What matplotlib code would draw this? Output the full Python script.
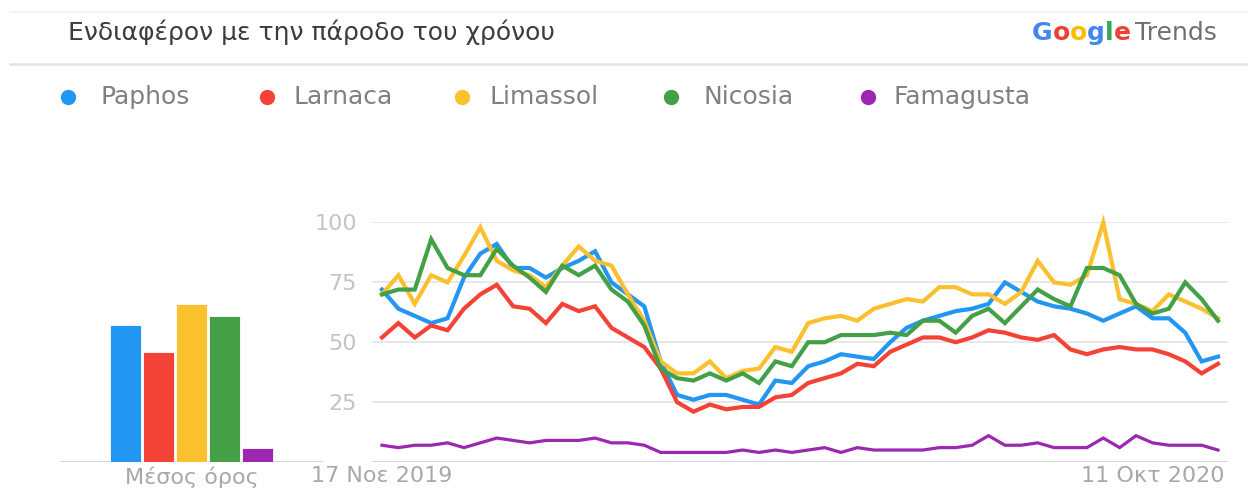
import matplotlib
matplotlib.use('Agg')
import matplotlib.pyplot as plt
from matplotlib.lines import Line2D

plt.rcParams['font.family'] = ['DejaVu Sans']

# weekly interest, 17 Nov 2019 .. 8 Nov 2020
names = ['Paphos', 'Larnaca', 'Limassol', 'Nicosia', 'Famagusta']
colors = ['#2196f3', '#f44336', '#fbc02d', '#43a047', '#9c27b0']

paphos = [72, 64, 61, 58, 60, 77, 87, 91, 81, 81, 77, 81, 84, 88, 75, 70, 65, 42,
          28, 26, 28, 28, 26, 24, 34, 33, 40, 42, 45, 44, 43, 50, 56, 59, 61, 63,
          64, 66, 75, 71, 67, 65, 64, 62, 59, 62, 65, 60, 60, 54, 42, 44]
larnaca = [52, 58, 52, 57, 55, 64, 70, 74, 65, 64, 58, 66, 63, 65, 56, 52, 48, 39,
           25, 21, 24, 22, 23, 23, 27, 28, 33, 35, 37, 41, 40, 46, 49, 52, 52, 50,
           52, 55, 54, 52, 51, 53, 47, 45, 47, 48, 47, 47, 45, 42, 37, 41]
limassol = [70, 78, 66, 78, 75, 86, 98, 84, 80, 78, 73, 82, 90, 84, 82, 70, 59, 42,
            37, 37, 42, 35, 38, 39, 48, 46, 58, 60, 61, 59, 64, 66, 68, 67, 73, 73,
            70, 70, 66, 71, 84, 75, 74, 78, 100, 68, 66, 63, 70, 67, 64, 60]
nicosia = [70, 72, 72, 93, 81, 78, 78, 89, 82, 77, 71, 82, 78, 82, 72, 67, 57, 39,
           35, 34, 37, 34, 37, 33, 42, 40, 50, 50, 53, 53, 53, 54, 53, 59, 59, 54,
           61, 64, 58, 65, 72, 68, 65, 81, 81, 78, 66, 62, 64, 75, 68, 59]
famagusta = [7, 6, 7, 7, 8, 6, 8, 10, 9, 8, 9, 9, 9, 10, 8, 8, 7, 4,
             4, 4, 4, 4, 5, 4, 5, 4, 5, 6, 4, 6, 5, 5, 5, 5, 6, 6,
             7, 11, 7, 7, 8, 6, 6, 6, 10, 6, 11, 8, 7, 7, 7, 5]
averages = [57, 46, 66, 61, 6]

date_ticks = [0, 47]
date_labels = ['17 Νοε 2019', '11 Οκτ 2020']

series = [paphos, larnaca, limassol, nicosia, famagusta]
weeks = list(range(len(paphos)))

W, H = 1248, 498
fig = plt.figure(figsize=(W / 100, H / 100), dpi=100)


def fx(x):
    return x / W


def fy(y):
    return 1 - y / H


# header lines
fig.add_artist(Line2D([fx(10), 1], [fy(12), fy(12)], color='#f0f0f0', lw=1.2, transform=fig.transFigure))
fig.add_artist(Line2D([fx(10), 1], [fy(64), fy(64)], color='#e3e3e3', lw=1.8, transform=fig.transFigure))

fig.text(fx(68), fy(32), 'Ενδιαφέρον με την πάροδο του χρόνου', fontsize=18,
         color='#3c3c3c', va='center', ha='left')

# Google Trends logo
renderer = fig.canvas.get_renderer()
gx = fx(1032)
for ch, c in zip('Google', ['#4285f4', '#ea4335', '#fbbc05', '#4285f4', '#34a853', '#ea4335']):
    t = fig.text(gx, fy(33), ch, fontsize=18, color=c, va='center', ha='left', fontweight='bold')
    gx += t.get_window_extent(renderer).width / W
fig.text(gx + fx(4), fy(33), 'Trends', fontsize=18, color='#6f6f6f', va='center', ha='left')

# legend
circle_x = [68, 267, 462, 671, 868]
text_x = [100, 294, 490, 703, 894]
for name, c, cx, tx in zip(names, colors, circle_x, text_x):
    fig.add_artist(Line2D([fx(cx)], [fy(97)], marker='o', ms=10, color=c,
                          linestyle='none', transform=fig.transFigure))
    fig.text(fx(tx), fy(97), name, fontsize=18, color='#808080', va='center', ha='left')

# average bars
bx = fig.add_axes([fx(60), fy(462), fx(323) - fx(60), fy(222.5) - fy(462)])
bx.patch.set_visible(False)
bx.bar(range(len(averages)), averages, width=0.95, color=colors, edgecolor='white', lw=0.6)
bx.axhline(0, color='#c6c6c6', lw=1.8, zorder=0)
bx.set_xlim(-2, 6)
bx.set_ylim(0, 100)
for s in bx.spines.values():
    s.set_visible(False)
bx.set_yticks([])
bx.set_xticks([2], ['Μέσος όρος'])
bx.tick_params(axis='x', length=0, pad=3, labelsize=16, labelcolor='#a8a8a8')

# line chart
ax = fig.add_axes([fx(372), fy(462), fx(1228) - fx(372), fy(222.5) - fy(462)])
ax.patch.set_visible(False)
for v in [25, 50, 75, 100]:
    ax.axhline(v, color='#e8e8e8', lw=1.4, zorder=0)
ax.axhline(0, color='#c6c6c6', lw=1.8, zorder=0)
for name, vals, c in zip(names, series, colors):
    lw = 2.3 if name == 'Famagusta' else 3.0
    ax.plot(weeks, vals, color=c, lw=lw, clip_on=False, solid_joinstyle='miter')
ax.set_xlim(-0.61, len(weeks) - 1 + 0.61)
ax.set_ylim(0, 100)
for s in ax.spines.values():
    s.set_visible(False)
ax.set_yticks([25, 50, 75, 100])
ax.tick_params(axis='y', length=0, pad=11, labelsize=16, labelcolor='#c4c4c4')
ax.set_xticks(date_ticks, date_labels)
ax.tick_params(axis='x', length=0, pad=3, labelsize=16, labelcolor='#a8a8a8')

fig.savefig('out.png', dpi=100)
